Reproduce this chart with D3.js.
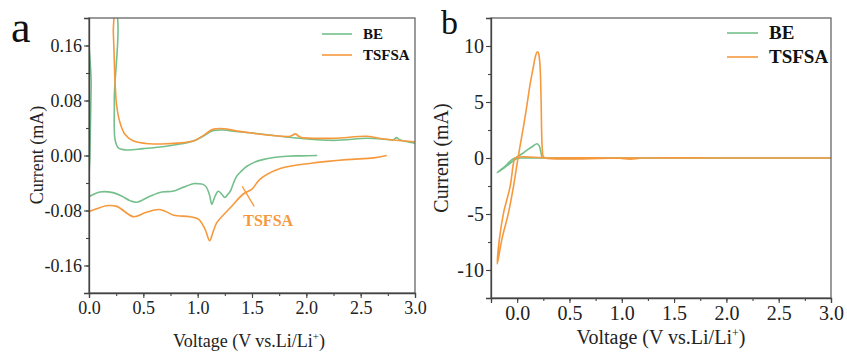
<!DOCTYPE html>
<html>
<head>
<meta charset="utf-8">
<script src="https://cdn.jsdelivr.net/npm/d3@7"></script>
<style>
  body { margin: 0; background: #fff; }
  text { font-family: "Liberation Serif", "Times New Roman", serif; }
</style>
</head>
<body>
<script>
// Data (voltage V, current mA), in scan order
const seriesNames = ["BE", "TSFSA"];

// panel a
const beA = [
    [2.1,0],[1.95,-0.0005],[1.82,-0.001],[1.7,-0.003],[1.6,-0.006],[1.52,-0.010],[1.45,-0.016],
    [1.40,-0.023],[1.36,-0.030],[1.33,-0.040],[1.30,-0.052],[1.27,-0.058],[1.25,-0.061],[1.22,-0.056],
    [1.19,-0.052],[1.16,-0.059],[1.13,-0.071],[1.11,-0.058],[1.08,-0.046],[1.05,-0.042],[1.0,-0.041],
    [0.96,-0.041],[0.87,-0.046],[0.77,-0.052],[0.67,-0.053],[0.55,-0.060],[0.44,-0.068],[0.38,-0.066],
    [0.30,-0.059],[0.22,-0.054],[0.10,-0.053],[0.01,-0.059],[0.0,-0.06],
    [0.008,0.0],[0.02,0.1],[0.035,0.22],[0.224,0.22],[0.233,0.081],[0.24,0.023],[0.27,0.011],
    [0.35,0.008],[0.5,0.010],[0.71,0.0135],[0.85,0.017],[0.96,0.021],[1.05,0.028],[1.14,0.036],
    [1.24,0.037],[1.35,0.035],[1.48,0.033],[1.7,0.029],[1.94,0.025],[2.25,0.022],[2.56,0.025],
    [2.7,0.024],[2.8,0.023],[2.83,0.026],[2.86,0.023],[3.0,0.018]
];
const tsfsaA = [
    [2.74,0],[2.62,-0.0035],[2.37,-0.006],[2.06,-0.011],[1.76,-0.019],[1.57,-0.035],[1.50,-0.049],
    [1.42,-0.056],[1.30,-0.076],[1.175,-0.098],[1.14,-0.112],[1.11,-0.124],[1.07,-0.108],[1.01,-0.093],
    [0.93,-0.089],[0.78,-0.087],[0.70,-0.081],[0.64,-0.0785],[0.52,-0.083],[0.41,-0.089],[0.255,-0.074],
    [0.16,-0.073],[0.01,-0.081],[0.0,-0.081],
    [0.001,0.0],[0.002,0.22],[0.208,0.22],[0.224,0.178],[0.24,0.106],[0.255,0.072],[0.285,0.048],
    [0.33,0.031],[0.41,0.021],[0.56,0.017],[0.71,0.017],[0.96,0.021],[1.05,0.029],[1.14,0.038],
    [1.24,0.039],[1.35,0.036],[1.48,0.033],[1.85,0.028],[1.90,0.0315],[1.94,0.027],[2.25,0.025],
    [2.56,0.028],[2.71,0.024],[3.0,0.020]
];

// panel b
const beB = [
    [3.0,0],[2.0,0],[1.0,0],[0.3,0],[0.05,0],[0.0,-0.05],[-0.05,-0.35],[-0.12,-0.85],[-0.19,-1.3],
    [-0.15,-1.0],[-0.1,-0.6],[-0.05,-0.15],[0.0,0.1],[0.05,0.4],[0.1,0.75],[0.15,1.05],[0.19,1.27],
    [0.21,1.1],[0.225,0.6],[0.24,0.05],[0.26,0],[1.0,0],[2.0,0],[3.0,0]
];
const tsfsaB = [
    [3.0,0],[2.0,0],[1.2,0],[1.08,-0.1],[0.95,0],[0.3,0],[-0.02,0],[-0.035,-0.47],[-0.067,-2.54],
    [-0.13,-4.9],[-0.17,-7.26],[-0.19,-9.47],
    [-0.146,-7.26],[-0.083,-4.9],[-0.035,-2.54],[0.0,-0.47],[0.03,1.2],[0.06,2.77],[0.09,4.5],
    [0.124,6.6],[0.15,7.9],[0.172,8.96],[0.19,9.45],[0.2,9.45],[0.21,9.1],[0.22,8.0],[0.229,5.1],
    [0.239,1.0],[0.25,0.15],[0.27,0],[1.0,0],[2.0,0],[3.0,0]
];

const xTicks = [0, 0.5, 1.0, 1.5, 2.0, 2.5, 3.0];
const yTicksA = [-0.16, -0.08, 0, 0.08, 0.16];
const yTicksB = [-10, -5, 0, 5, 10];

// Helpers
const colors = { "BE": "#74bf8b", "TSFSA": "#f6993d" };
// plain hyphen for negatives, like the figure
let hyphen = f => (d => f(d).replace("\u2212", "-"));

function drawPanel(svg, opt) {
    let xScale = d3.scaleLinear().domain(opt.xDomain).range([opt.left, opt.right]);
    let yScale = d3.scaleLinear().domain(opt.yDomain).range([opt.bottom, opt.top]);

    svg.append("clipPath").attr("id", "clip-" + opt.id)
        .append("rect")
        .attr("x", opt.left).attr("y", opt.top)
        .attr("width", opt.right - opt.left).attr("height", opt.bottom - opt.top);

    let line = d3.line()
        .x(d => xScale(d[0]))
        .y(d => yScale(d[1]))
        .curve(d3.curveCatmullRom.alpha(0.5));

    let g = svg.append("g").attr("clip-path", `url(#clip-${opt.id})`);
    opt.series.forEach((s, i) => {
        g.append("path")
            .attr("d", line(s))
            .attr("fill", "none")
            .attr("stroke", colors[seriesNames[i]])
            .attr("stroke-width", 1.6);
    });

    // frame
    svg.append("rect")
        .attr("x", opt.left).attr("y", opt.top)
        .attr("width", opt.right - opt.left).attr("height", opt.bottom - opt.top)
        .attr("fill", "none").attr("stroke", "#666").attr("stroke-width", 1.3);

    // minor ticks
    let xMinor = d3.range(opt.xDomain[0], opt.xDomain[1] + 1e-9, 0.25);
    svg.append("g")
        .attr("transform", `translate(0, ${opt.bottom})`)
        .call(d3.axisBottom(xScale).tickValues(xMinor).tickSize(3).tickFormat(""))
        .call(g => g.select(".domain").remove());
    let yMinor = d3.range(opt.yTicks[0] - opt.yStep, opt.yDomain[1] + 1e-9, opt.yStep);
    svg.append("g")
        .attr("transform", `translate(${opt.left}, 0)`)
        .call(d3.axisLeft(yScale).tickValues(yMinor).tickSize(3).tickFormat(""))
        .call(g => g.select(".domain").remove());

    // major axes
    let xAxis = svg.append("g")
        .attr("transform", `translate(0, ${opt.bottom})`)
        .call(d3.axisBottom(xScale).tickValues(xTicks).tickSize(5).tickPadding(3).tickFormat(d3.format(".1f")));
    let yAxis = svg.append("g")
        .attr("transform", `translate(${opt.left}, 0)`)
        .call(d3.axisLeft(yScale).tickValues(opt.yTicks).tickSize(5).tickPadding(2).tickFormat(hyphen(opt.yFormat)));
    [xAxis, yAxis].forEach(a => {
        a.selectAll("text").style("font-family", "Liberation Serif").style("font-size", opt.fs + "px").attr("fill", "#222");
        a.select(".domain").attr("stroke", "#444").attr("stroke-width", 1.3);
    });
    svg.selectAll(".tick line").attr("stroke", "#444").attr("stroke-width", 1.1);

    // axis titles
    let xt = svg.append("text")
        .attr("x", (opt.left + opt.right) / 2 + opt.xTitleDx)
        .attr("y", opt.xTitleY)
        .attr("text-anchor", "middle")
        .style("font-size", opt.fs + "px")
        .attr("fill", "#222");
    xt.append("tspan").text("Voltage (V vs.Li/Li");
    xt.append("tspan").text("+").attr("dy", -7).style("font-size", (opt.fs * 0.6) + "px");
    xt.append("tspan").text(")").attr("dy", 7);

    svg.append("text")
        .attr("transform", `translate(${opt.yTitleX}, ${opt.yTitleY}) rotate(-90)`)
        .attr("text-anchor", "middle")
        .style("font-size", opt.fs + "px")
        .attr("fill", "#222")
        .text("Current (mA)");

    // panel letter
    svg.append("text")
        .attr("x", opt.letterX).attr("y", opt.letterY)
        .style("font-size", opt.letterFs + "px")
        .attr("fill", "#111")
        .text(opt.letter);

    // legend
    seriesNames.forEach((name, i) => {
        let ly = opt.legendY + i * opt.legendGap;
        svg.append("line")
            .attr("x1", opt.legendX).attr("x2", opt.legendX + opt.legendLen)
            .attr("y1", ly).attr("y2", ly)
            .attr("stroke", colors[name]).attr("stroke-width", 1.6);
        svg.append("text")
            .attr("x", opt.legendX + opt.legendLen + 11)
            .attr("y", ly + opt.legendFs * 0.33)
            .style("font-size", opt.legendFs + "px")
            .style("font-weight", "bold")
            .attr("fill", "#111")
            .text(name);
    });

    return { xScale, yScale };
}

// Main
function main() {
    let svg = d3.select("body").append("svg")
        .attr("width", 847)
        .attr("height", 354);

    let a = drawPanel(svg, {
        id: "a", letter: "a", letterX: 11, letterY: 42, letterFs: 44,
        left: 89, right: 415, top: 18, bottom: 293,
        xDomain: [0, 3.0], yDomain: [-0.2, 0.2],
        yTicks: yTicksA, yStep: 0.04, yFormat: d3.format(".2f"),
        series: [beA, tsfsaA], fs: 18,
        xTitleDx: -3, xTitleY: 347, yTitleX: 43, yTitleY: 155,
        legendX: 322, legendLen: 30, legendY: 34, legendGap: 21, legendFs: 15
    });

    // annotation for TSFSA in panel a
    svg.append("line")
        .attr("x1", a.xScale(1.41)).attr("y1", a.yScale(-0.045))
        .attr("x2", a.xScale(1.52)).attr("y2", a.yScale(-0.074))
        .attr("stroke", colors["TSFSA"]).attr("stroke-width", 1.3);
    svg.append("text")
        .attr("x", a.xScale(1.42)).attr("y", a.yScale(-0.103))
        .style("font-size", "16px")
        .style("font-weight", "bold")
        .attr("fill", colors["TSFSA"])
        .text("TSFSA");

    drawPanel(svg, {
        id: "b", letter: "b", letterX: 441, letterY: 34, letterFs: 34,
        left: 491, right: 831, top: 18, bottom: 298,
        xDomain: [-0.25, 3.0], yDomain: [-12.5, 12.5],
        yTicks: yTicksB, yStep: 2.5, yFormat: d3.format("d"),
        series: [beB, tsfsaB], fs: 20,
        xTitleDx: 0, xTitleY: 344, yTitleX: 448, yTitleY: 158,
        legendX: 727, legendLen: 31, legendY: 33, legendGap: 24, legendFs: 19
    });
}

main();
</script>
</body>
</html>
